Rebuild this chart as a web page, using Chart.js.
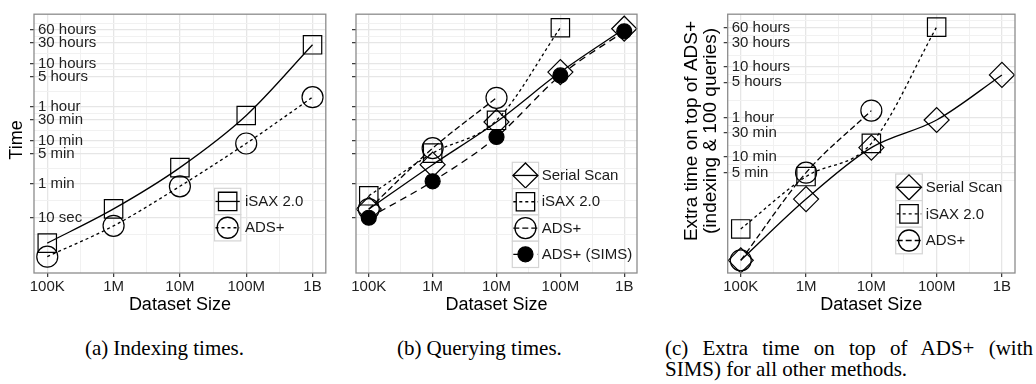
<!DOCTYPE html>
<html><head><meta charset="utf-8">
<script src="https://cdn.jsdelivr.net/npm/chart.js@4.4.1/dist/chart.umd.min.js"></script>
<style>
html,body{margin:0;padding:0;background:#fff;width:1036px;height:384px;overflow:hidden;}
canvas{position:absolute;top:0;}
.cap{position:absolute;font-family:"Liberation Serif","Times New Roman",serif;font-size:21px;line-height:21px;color:#000;white-space:nowrap;}
</style></head><body>
<canvas id="ca" width="340" height="320" style="left:0px"></canvas>
<canvas id="cb" width="340" height="320" style="left:340px"></canvas>
<canvas id="cc" width="356" height="320" style="left:680px"></canvas>
<div class="cap" style="left:85px;top:338px"><span style="margin-right:5px">(a)</span>Indexing times.</div>
<div class="cap" style="left:397px;top:338px"><span style="margin-right:5px">(b)</span>Querying times.</div>
<div class="cap" style="left:665px;top:338px;width:368px;text-align:justify;text-align-last:justify;white-space:normal">(c) Extra time on top of ADS+ (with</div>
<div class="cap" style="left:665px;top:359px">SIMS) for all other methods.</div>
<script>
// ---------- data ----------
const sizes = [1e5, 1e6, 1e7, 1e8, 1e9];
const sizeLabels = ['100K', '1M', '10M', '100M', '1B'];

const timeTicks = [10, 60, 300, 600, 1800, 3600, 18000, 36000, 108000, 216000];
const timeTickLabels = ['10 sec', '1 min', '5 min', '10 min', '30 min', '1 hour', '5 hours', '10 hours', '30 hours', '60 hours'];
const extraTicks = [300, 600, 1800, 3600, 18000, 36000, 108000, 216000];
const extraTickLabels = ['5 min', '10 min', '30 min', '1 hour', '5 hours', '10 hours', '30 hours', '60 hours'];

// (a) indexing times, seconds
const idxISAX = [2.6, 16, 143, 2270, 96600];
const idxADS = [1.27, 6.5, 53, 514, 6000];
// (b) querying times, seconds
const qSerial = [15.8, 167, 1610, 22700, 227000];
const qISAX = [32, 308, 1760, 239000, null];
const qADS = [15.8, 400, 5800, null, null];
const qSIMS = [10, 69, 725, 19000, 198000];
// (c) extra time on top of ADS+ (SIMS), seconds
const exSerial = [5.5, 89, 925, 3250, 25200];
const exISAX = [22.9, 248, 1120, 222000, null];
const exADS = [5.5, 296, 4980, null, null];

// ---------- styling ----------
const SANS = '"Liberation Sans", Arial, Helvetica, sans-serif';
Chart.defaults.font.family = SANS;
const MAJOR = '#e6e6e6', MINOR = '#f1f1f1';

const STY = {
  serial: {pointStyle: 'rectRot', pointRadius: 12.5, borderDash: [], fill: false},
  isax:   {pointStyle: 'rect', pointRadius: 13, borderDash: [3, 3], fill: false},
  isaxA:  {pointStyle: 'rect', pointRadius: 13, borderDash: [], fill: false},
  adsA:   {pointStyle: 'circle', pointRadius: 10.5, borderDash: [3, 3], fill: false},
  ads:    {pointStyle: 'circle', pointRadius: 10.5, borderDash: [6, 3], fill: false},
  sims:   {pointStyle: 'circle', pointRadius: 7.5, borderDash: [7, 5], fill: true},
};

function pts(arr) {
  return sizes.map((s, i) => ({x: s, y: arr[i]})).filter(p => p.y !== null);
}
function ds(label, arr, st) {
  return {
    label, data: pts(arr),
    borderColor: '#000', borderWidth: 1.3, borderDash: st.borderDash,
    pointStyle: st.pointStyle, pointRadius: st.pointRadius, pointHoverRadius: st.pointRadius,
    pointBorderColor: '#000', pointBorderWidth: 1.2,
    pointBackgroundColor: st.fill ? '#000' : 'rgba(0,0,0,0)',
    cubicInterpolationMode: 'monotone', clip: false, spanGaps: false
  };
}
function withMinor(vals, min, max) {
  const out = [];
  const lg = vals.map(Math.log10);
  const ext = [2 * lg[0] - lg[1], ...lg, 2 * lg[lg.length - 1] - lg[lg.length - 2]];
  for (let i = 0; i < ext.length - 1; i++) {
    const m = Math.pow(10, (ext[i] + ext[i + 1]) / 2);
    if (m >= min && m <= max) out.push({value: m, minor: true});
  }
  vals.forEach(v => out.push({value: v, minor: false}));
  out.sort((a, b) => a.value - b.value);
  return out;
}

const framePlugin = {
  id: 'frame',
  afterDatasetsDraw(chart) {
    const {ctx, chartArea: a} = chart;
    ctx.save();
    ctx.strokeStyle = '#8c8c8c'; ctx.lineWidth = 1.3;
    ctx.strokeRect(a.left, a.top, a.right - a.left, a.bottom - a.top);
    ctx.restore();
  }
};
const keyLegend = {
  id: 'keyLegend',
  afterDraw(chart, args, o) {
    const {ctx} = chart;
    ctx.save();
    chart.data.datasets.forEach((d, i) => {
      const y0 = o.y + i * o.size, cx = o.x + o.size / 2, cy = y0 + o.size / 2;
      ctx.fillStyle = '#fff';
      ctx.fillRect(o.x, y0, o.size, o.size);
      ctx.strokeStyle = '#d4d4d4'; ctx.lineWidth = 1.2; ctx.setLineDash([]);
      ctx.strokeRect(o.x, y0, o.size, o.size);
      ctx.strokeStyle = '#000'; ctx.lineWidth = d.borderWidth; ctx.setLineDash(d.borderDash);
      ctx.beginPath(); ctx.moveTo(o.x + 1, cy); ctx.lineTo(o.x + o.size - 1, cy); ctx.stroke();
      ctx.setLineDash([]);
      ctx.fillStyle = d.pointBackgroundColor; ctx.strokeStyle = '#000';
      Chart.helpers.drawPoint(ctx, {pointStyle: d.pointStyle, radius: d.pointRadius, borderWidth: d.pointBorderWidth, rotation: 0}, cx, cy);
      ctx.fillStyle = '#1a1a1a'; ctx.font = '15px ' + SANS;
      ctx.textAlign = 'left'; ctx.textBaseline = 'middle';
      ctx.fillText(d.label, o.textX, cy + 0.5);
    });
    ctx.restore();
  }
};
const yTitle = {
  id: 'yTitle',
  afterDraw(chart, args, o) {
    const {ctx} = chart;
    ctx.save();
    ctx.fillStyle = '#000'; ctx.font = o.size + 'px ' + SANS;
    ctx.textAlign = 'center'; ctx.textBaseline = 'middle';
    o.lines.forEach((t, i) => {
      ctx.save(); ctx.translate(o.x + i * o.lh, o.y); ctx.rotate(-Math.PI / 2);
      ctx.fillText(t, 0, 0); ctx.restore();
    });
    ctx.restore();
  }
};

function makeChart(id, datasets, cfg) {
  const xmin = Math.pow(10, 4.8), xmax = Math.pow(10, 9.2);
  return new Chart(document.getElementById(id), {
    type: 'line',
    data: {datasets},
    plugins: [framePlugin, keyLegend, yTitle],
    options: {
      responsive: false, animation: false, events: [],
      layout: {padding: {top: 5, right: cfg.padRight, bottom: 0, left: 0}},
      plugins: {
        legend: {display: false}, tooltip: {enabled: false},
        keyLegend: cfg.legend, yTitle: cfg.title
      },
      scales: {
        x: {
          type: 'logarithmic', min: xmin, max: xmax, bounds: 'data',
          afterBuildTicks: s => { s.ticks = withMinor(sizes, xmin, xmax); },
          afterFit: s => { s.height = 47; s.paddingLeft = 0; s.paddingRight = 0; },
          border: {display: false},
          grid: {
            color: c => (c.tick && c.tick.minor) ? MINOR : MAJOR,
            lineWidth: c => (c.tick && c.tick.minor) ? 1 : 1.3,
            tickColor: c => (c.tick && c.tick.minor) ? 'rgba(0,0,0,0)' : '#333',
            tickLength: 4, tickWidth: 1.2
          },
          ticks: {
            autoSkip: false, maxRotation: 0, padding: 1, color: '#222', font: {size: 15},
            callback: v => { const i = sizes.indexOf(v); return i >= 0 ? sizeLabels[i] : ''; }
          },
          title: {display: true, text: 'Dataset Size', color: '#000', font: {size: 18}, padding: {top: 0, bottom: 4}}
        },
        y: {
          type: 'logarithmic', min: cfg.ymin, max: cfg.ymax, bounds: 'data',
          afterBuildTicks: s => { s.ticks = withMinor(cfg.yTicks, cfg.ymin, cfg.ymax); },
          afterFit: s => { s.width = cfg.yWidth; s.paddingTop = 0; s.paddingBottom = 0; },
          border: {display: false},
          grid: {
            color: c => (c.tick && c.tick.minor) ? MINOR : MAJOR,
            lineWidth: c => (c.tick && c.tick.minor) ? 1 : 1.3,
            tickColor: c => (c.tick && c.tick.minor) ? 'rgba(0,0,0,0)' : '#333',
            tickLength: 4, tickWidth: 1.2
          },
          ticks: {
            autoSkip: false, mirror: true, padding: 4, color: '#222', font: {size: 15},
            callback: v => {
              if (!cfg.yLabels) return '';
              const i = cfg.yTicks.indexOf(v); return i >= 0 ? cfg.yLabels[i] : '';
            }
          }
        }
      }
    }
  });
}

makeChart('ca', [
  ds('iSAX 2.0', idxISAX, STY.isaxA),
  ds('ADS+', idxADS, STY.adsA)
], {
  padRight: 14, yWidth: 34, ymin: 0.533, ymax: 490000,
  yTicks: timeTicks, yLabels: timeTickLabels,
  legend: {x: 214.5, y: 188.3, size: 26.3, textX: 245},
  title: {lines: ['Time'], x: 17.5, y: 140, lh: 19, size: 18}
});

makeChart('cb', [
  ds('Serial Scan', qSerial, STY.serial),
  ds('iSAX 2.0', qISAX, STY.isax),
  ds('ADS+', qADS, STY.ads),
  ds('ADS+ (SIMS)', qSIMS, STY.sims)
], {
  padRight: 43, yWidth: 16, ymin: 0.533, ymax: 490000,
  yTicks: timeTicks, yLabels: null,
  legend: {x: 172.3, y: 162.3, size: 26.3, textX: 201.7},
  title: {lines: [], x: 0, y: 0, lh: 0, size: 18}
});

makeChart('cc', [
  ds('Serial Scan', exSerial, STY.serial),
  ds('iSAX 2.0', exISAX, STY.isax),
  ds('ADS+', exADS, STY.ads)
], {
  padRight: 21, yWidth: 47.7, ymin: Math.pow(10, 0.49), ymax: Math.pow(10, 5.601),
  yTicks: extraTicks, yLabels: extraTickLabels,
  legend: {x: 215.7, y: 174, size: 26.6, textX: 245.7},
  title: {lines: ['Extra time on top of ADS+', '(indexing & 100 queries)'], x: 12, y: 131, lh: 19, size: 19}
});
</script>
</body></html>
